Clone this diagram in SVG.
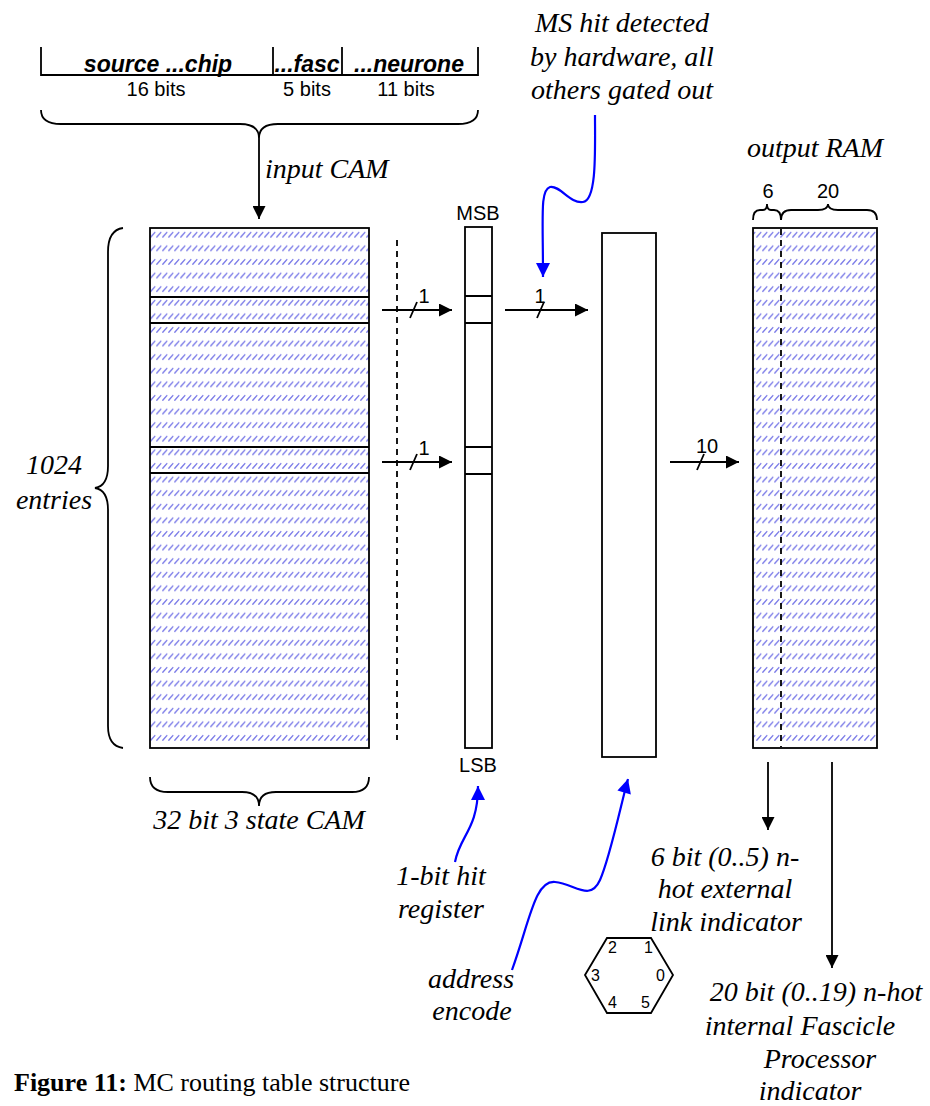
<svg xmlns="http://www.w3.org/2000/svg" width="930" height="1106" viewBox="0 0 930 1106">
<style>
.ln{fill:none;stroke:#000;stroke-width:1.8}
.box{fill:#fff;stroke:#000;stroke-width:1.8}
.hat{fill:url(#hatch);stroke:#000;stroke-width:1.8}
.blue{fill:none;stroke:#0000ff;stroke-width:2.2}
.it{font-family:"Liberation Serif",serif;font-style:italic;font-size:28px;fill:#000;text-anchor:middle}
.sa{font-family:"Liberation Sans",Arial,sans-serif;font-size:20px;fill:#000;text-anchor:middle}
.sb{font-family:"Liberation Sans",Arial,sans-serif;font-size:23px;font-weight:bold;font-style:italic;fill:#000;text-anchor:middle}
.hx{font-family:"Liberation Sans",Arial,sans-serif;font-size:16px;fill:#000}
.dash{fill:none;stroke:#000;stroke-width:1.8;stroke-dasharray:6,5}
.cap{font-family:"Liberation Serif",serif;font-size:26px;fill:#000}
</style>
<defs>
<pattern id="hatch" patternUnits="userSpaceOnUse" x="150" y="228" width="6" height="13.6">
<rect width="6" height="13.6" fill="#fff"/>
<path d="M0.8,9 L4.8,4.5" stroke="#7a7ae8" stroke-width="1.4" stroke-linecap="round"/>
</pattern>
<marker id="ah" viewBox="0 0 10 10" refX="10" refY="5" markerWidth="16" markerHeight="13" markerUnits="userSpaceOnUse" orient="auto">
<path d="M0,0 L10,5 L0,10 z" fill="#000"/>
</marker>
<marker id="bh" viewBox="0 0 10 10" refX="10" refY="5" markerWidth="16" markerHeight="14" markerUnits="userSpaceOnUse" orient="auto">
<path d="M0,0 L10,5 L0,10 z" fill="#0000ff"/>
</marker>
</defs>

<g id="header">
<path class="ln" d="M41,47 V75 H478 V47 M273,47 V75 M342,47 V75"/>
<text class="sb" x="158" y="72">source ...chip</text>
<text class="sb" x="307" y="72">...fasc</text>
<text class="sb" x="409" y="72">...neurone</text>
<text class="sa" x="156" y="96">16 bits</text>
<text class="sa" x="307" y="96">5 bits</text>
<text class="sa" x="406" y="96">11 bits</text>
<path class="ln" d="M41,110 Q41,124 61,124 L240,124 Q259,124 259,138 Q259,124 278,124 L458,124 Q478,124 478,110"/>
</g>

<g id="cam">
<rect class="hat" x="150" y="228" width="219" height="520"/>
<path class="ln" d="M150,297 H369 M150,323 H369 M150,447 H369 M150,473 H369"/>
<path class="ln" d="M123,228 Q108,230 108,252 L108,466 Q108,486 95,488 Q108,490 108,510 L108,726 Q108,746 123,748"/>
<text class="it" x="54" y="474">1024</text>
<text class="it" x="54" y="509">entries</text>
<path class="ln" d="M150,777 Q150,792 168,792 L242,792 Q259,792 259,806 Q259,792 276,792 L352,792 Q369,792 369,777"/>
<text class="it" x="259" y="829">32 bit 3 state CAM</text>
</g>

<g id="hitreg">
<rect class="box" x="465" y="227" width="27" height="521"/>
<path class="ln" d="M465,296 H492 M465,323 H492 M465,447 H492 M465,474 H492"/>
<text class="sa" x="478" y="220">MSB</text>
<text class="sa" x="478" y="772">LSB</text>
<text class="it" x="441" y="885">1-bit hit</text>
<text class="it" x="441" y="918">register</text>
</g>

<g id="encoder">
<rect class="box" x="602" y="233" width="54" height="524"/>
<text class="it" x="471" y="988">address</text>
<text class="it" x="472" y="1020">encode</text>
</g>

<g id="ram">
<rect class="hat" x="753" y="228" width="124" height="520"/>
<path class="dash" d="M781,229 V747"/>
<path class="ln" d="M753,220 Q753,210 760,210 L763,210 Q767,210 767,204 Q767,210 771,210 L774,210 Q781,210 781,220"/>
<path class="ln" d="M781,220 Q781,210 791,210 L818,210 Q828,210 828,204 Q828,210 838,210 L867,210 Q877,210 877,220"/>
<text class="sa" x="768" y="198">6</text>
<text class="sa" x="828" y="198">20</text>
<text class="it" x="815" y="157">output RAM</text>
<text class="it" x="725" y="866">6 bit (0..5) n-</text>
<text class="it" x="725" y="898">hot external</text>
<text class="it" x="726" y="931">link indicator</text>
<text class="it" x="816" y="1001">20 bit (0..19) n-hot</text>
<text class="it" x="800" y="1035">internal Fascicle</text>
<text class="it" x="820" y="1068">Processor</text>
<text class="it" x="810" y="1100">indicator</text>
</g>

<g id="ms-note">
<text class="it" x="622" y="32">MS hit detected</text>
<text class="it" x="622" y="66">by hardware, all</text>
<text class="it" x="622" y="99">others gated out</text>
</g>

<g id="hexagon">
<polygon class="ln" points="585,975 607,938 651,938 673,975 651,1013 607,1013"/>
<text class="hx" x="608" y="953">2</text>
<text class="hx" x="644" y="953">1</text>
<text class="hx" x="591" y="981">3</text>
<text class="hx" x="656" y="981">0</text>
<text class="hx" x="608" y="1008">4</text>
<text class="hx" x="641" y="1008">5</text>
</g>

<g id="connectors">
<path class="ln" d="M259,138 V219" marker-end="url(#ah)"/>
<text class="it" x="265" y="178" style="text-anchor:start">input CAM</text>
<path class="dash" d="M397,240 V740"/>
<path class="ln" d="M382,310 H452" marker-end="url(#ah)"/>
<path class="ln" d="M410,318 L417,302"/>
<text class="sa" x="424" y="303">1</text>
<path class="ln" d="M382,462 H452" marker-end="url(#ah)"/>
<path class="ln" d="M410,470 L417,454"/>
<text class="sa" x="424" y="455">1</text>
<path class="ln" d="M505,310 H588" marker-end="url(#ah)"/>
<path class="ln" d="M537,318 L544,302"/>
<text class="sa" x="540" y="303">1</text>
<path class="ln" d="M670,462 H739" marker-end="url(#ah)"/>
<path class="ln" d="M697,470 L704,454"/>
<text class="sa" x="707" y="453">10</text>
<path class="ln" d="M768,762 V830" marker-end="url(#ah)"/>
<path class="ln" d="M832,762 V968" marker-end="url(#ah)"/>
<path class="blue" d="M595,115 C595,150 597,200 583,202 C570,204 560,185 550,187 C540,190 543,215 543,277" marker-end="url(#bh)"/>
<path class="blue" d="M455,862 C460,835 478,830 478,786" marker-end="url(#bh)"/>
<path class="blue" d="M512,970 C530,920 535,880 555,882 C575,884 590,902 600,880 C610,858 622,800 628,779" marker-end="url(#bh)"/>
</g>

<text class="cap" x="14" y="1091"><tspan font-weight="bold">Figure 11:</tspan> MC routing table structure</text>
</svg>
